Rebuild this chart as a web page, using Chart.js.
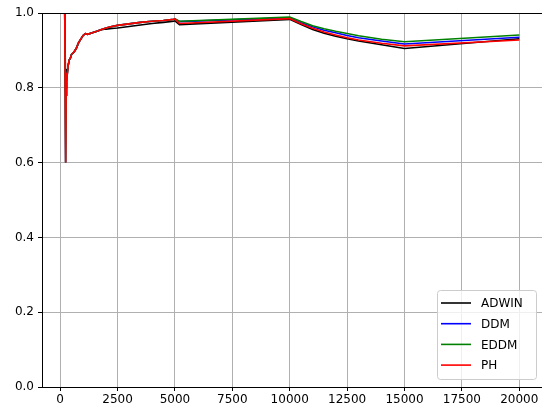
<!DOCTYPE html>
<html>
<head>
<meta charset="utf-8">
<script src="https://cdn.jsdelivr.net/npm/chart.js@4"></script>
<style>
    html, body { margin: 0; padding: 0; background: #fff; }
    #wrap { width: 542px; height: 414px; }
</style>
</head>
<body>
<div id="wrap"><canvas id="accChart"></canvas></div>
<script>
// sample positions (instances seen)
const steps = [200, 240, 260, 280, 300, 350, 400, 450, 500, 600, 700, 800, 900, 1000, 1100, 1200, 1400, 1600, 1800, 2000,
    2250, 2500, 3000, 3500, 4000, 4500, 4950, 5000, 5200, 10000, 10500, 11000, 11500, 12000, 12500, 13000, 14000, 15000, 20000];

const adwinAcc = [1.0, 0.79, 0.80, 0.85, 0.84, 0.86, 0.875, 0.88, 0.89, 0.895, 0.905, 0.92, 0.93, 0.94, 0.945, 0.943, 0.947, 0.951, 0.955, 0.957,
    0.959, 0.960, 0.964, 0.968, 0.972, 0.975, 0.978, 0.979, 0.969, 0.983, 0.969, 0.956, 0.946, 0.938, 0.931, 0.925, 0.915, 0.905, 0.931];
const ddmAcc = [1.0, 0.60, 0.78, 0.84, 0.83, 0.86, 0.875, 0.88, 0.89, 0.895, 0.905, 0.92, 0.93, 0.94, 0.945, 0.943, 0.947, 0.951, 0.956, 0.960,
    0.964, 0.967, 0.971, 0.975, 0.978, 0.980, 0.983, 0.984, 0.977, 0.987, 0.974, 0.963, 0.954, 0.947, 0.940, 0.934, 0.925, 0.917, 0.935];
const eddmAcc = [1.0, 0.60, 0.78, 0.84, 0.83, 0.86, 0.875, 0.88, 0.89, 0.895, 0.905, 0.92, 0.93, 0.94, 0.945, 0.943, 0.947, 0.951, 0.956, 0.960,
    0.964, 0.967, 0.971, 0.975, 0.978, 0.980, 0.983, 0.984, 0.978, 0.989, 0.977, 0.966, 0.958, 0.951, 0.945, 0.939, 0.930, 0.923, 0.941];
const phAcc = [1.0, 0.60, 0.78, 0.84, 0.83, 0.86, 0.875, 0.88, 0.89, 0.895, 0.905, 0.92, 0.93, 0.94, 0.945, 0.943, 0.947, 0.951, 0.956, 0.960,
    0.964, 0.967, 0.971, 0.975, 0.978, 0.980, 0.983, 0.984, 0.972, 0.985, 0.971, 0.959, 0.949, 0.941, 0.934, 0.928, 0.919, 0.912, 0.928];

const seriesNames = ['ADWIN', 'DDM', 'EDDM', 'PH'];
const seriesColors = ['#000000', '#0000ff', '#008000', '#ff0000'];
const xTicks = [0, 2500, 5000, 7500, 10000, 12500, 15000, 17500, 20000];
const yTicks = [0, 0.2, 0.4, 0.6, 0.8, 1.0];

const FONT = { family: 'DejaVu Sans', size: 12 };

function toPoints(ys) {
    return steps.map((x, i) => ({ x: x, y: ys[i] }));
}

const allSeries = [adwinAcc, ddmAcc, eddmAcc, phAcc];
const datasets = allSeries.map((ys, i) => ({
    label: seriesNames[i],
    data: toPoints(ys),
    borderColor: seriesColors[i],
    backgroundColor: seriesColors[i],
    borderWidth: 1.6,
    pointRadius: 0,
    tension: 0,
    fill: false,
    order: allSeries.length - i // later series on top, like matplotlib
}));

// top spine (right one falls off the canvas)
const frame = {
    id: 'frame',
    afterDraw(chart) {
        const { ctx, chartArea: a } = chart;
        ctx.save();
        ctx.strokeStyle = '#000';
        ctx.lineWidth = 1;
        ctx.beginPath();
        ctx.moveTo(a.left, a.top + 0.5);
        ctx.lineTo(a.right, a.top + 0.5);
        ctx.stroke();
        ctx.restore();
    }
};

// legend in the lower right corner, inside the axes
const cornerLegend = {
    id: 'cornerLegend',
    afterDraw(chart) {
        const { ctx, chartArea: a } = chart;
        const w = 99, h = 89;
        const x0 = a.right - 6 - w, y0 = a.bottom - 8 - h;
        ctx.save();
        ctx.beginPath();
        ctx.roundRect(x0 + 0.5, y0 + 0.5, w, h, 3);
        ctx.fillStyle = 'rgba(255,255,255,0.8)';
        ctx.fill();
        ctx.strokeStyle = '#cccccc';
        ctx.lineWidth = 1;
        ctx.stroke();
        ctx.font = FONT.size + 'px ' + FONT.family;
        ctx.textBaseline = 'middle';
        chart.data.datasets.forEach((ds, i) => {
            const y = y0 + 13 + i * 20.7;
            ctx.strokeStyle = ds.borderColor;
            ctx.lineWidth = 1.6;
            ctx.beginPath();
            ctx.moveTo(x0 + 4, y);
            ctx.lineTo(x0 + 34, y);
            ctx.stroke();
            ctx.fillStyle = '#000';
            ctx.fillText(ds.label, x0 + 44, y + 1);
        });
        ctx.restore();
    }
};

const ctx = document.getElementById('accChart').getContext('2d');
new Chart(ctx, {
    type: 'line',
    data: { datasets: datasets },
    options: {
        responsive: true,
        maintainAspectRatio: false,
        animation: false,
        layout: { padding: { top: 13, right: 0, bottom: 0, left: 0 } },
        plugins: {
            legend: { display: false },
            tooltip: { enabled: false }
        },
        scales: {
            x: {
                type: 'linear',
                min: -790,
                max: 20990,
                afterBuildTicks: axis => { axis.ticks = xTicks.map(v => ({ value: v })); },
                afterFit: scale => { scale.height = 27; },
                ticks: {
                    color: '#000',
                    font: FONT,
                    padding: 2,
                    maxRotation: 0,
                    autoSkip: false,
                    callback: v => String(v)
                },
                grid: { color: '#b0b0b0', lineWidth: 1, tickLength: 4, tickColor: '#000' },
                border: { color: '#000', width: 1 }
            },
            y: {
                min: 0,
                max: 1,
                afterBuildTicks: axis => { axis.ticks = yTicks.map(v => ({ value: v })); },
                afterFit: scale => { scale.width = 42; },
                ticks: {
                    color: '#000',
                    font: FONT,
                    padding: 4,
                    callback: v => Number(v).toFixed(1)
                },
                grid: { color: '#b0b0b0', lineWidth: 1, tickLength: 4, tickColor: '#000' },
                border: { color: '#000', width: 1 }
            }
        }
    },
    plugins: [frame, cornerLegend]
});
</script>
</body>
</html>
